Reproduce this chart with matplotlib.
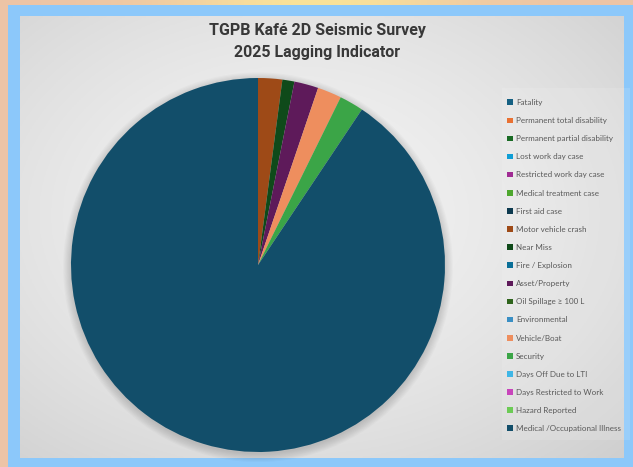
import numpy as np
import matplotlib
matplotlib.use("Agg")
import matplotlib.pyplot as plt
from matplotlib.patches import Patch, Rectangle, Circle

# categories and counts (clockwise from 12 o'clock, Excel style)
categories = [
    "Fatality", "Permanent total disability", "Permanent partial disability",
    "Lost work day case", "Restricted work day case", "Medical treatment case",
    "First aid case", "Motor vehicle crash", "Near Miss", "Fire / Explosion",
    "Asset/Property", "Oil Spillage \u2265 100 L", "Environmental", "Vehicle/Boat",
    "Security", "Days Off Due to LTI", "Days Restricted to Work",
    "Hazard Reported", "Medical /Occupational Illness",
]
counts = [0, 0, 0, 0, 0, 0, 0, 2, 1, 0, 2, 0, 0, 2, 2, 0, 0, 0, 87]
colors = [
    "#156082", "#E97132", "#196B24", "#0F9ED5", "#A02B93", "#4EA72E",
    "#0D3A4F", "#9E4A17", "#0F4A1A", "#0A6F98", "#5E1A5A", "#2F641C",
    "#3A8FC4", "#EE8E5E", "#3BA547", "#3FB6E6", "#C845BB", "#6CCB55",
    "#124E6A",
]

W, H = 633, 467
fig = plt.figure(figsize=(W / 100, H / 100), dpi=100)
fig.patch.set_facecolor("#EDC4A6")

# background frame (pixel coordinates)
bg = fig.add_axes([0, 0, 1, 1])
bg.axis("off")
top = np.linspace(0, 1, 200)
warm = np.exp(-((top - 0.5) ** 2) / 0.05)
strip = np.zeros((1, 200, 3))
strip[0, :, 0] = 0.93 + 0.05 * warm
strip[0, :, 1] = 0.77 + 0.12 * warm
strip[0, :, 2] = 0.65 - 0.05 * warm
bg.imshow(strip, extent=(0, W, 6, 0), aspect="auto", zorder=0)
bg.add_patch(Rectangle((8, 5), W - 8, H - 5, color="#8CC8FA", lw=0, zorder=1))

gx0, gx1, gy0, gy1 = 20, 624, 16, 458
yy, xx = np.mgrid[0:1:200j, 0:1:300j]
r = np.sqrt(((xx - 0.45) / 0.8) ** 2 + ((yy - 0.45) / 0.8) ** 2)
shade = 0.955 - 0.15 * np.clip(r, 0, 1) ** 1.5
bg.imshow(np.dstack([shade] * 3), extent=(gx0, gx1, gy1, gy0), aspect="auto", zorder=2)
bg.add_patch(Rectangle((502, 88), 128, 352, facecolor="white", alpha=0.12, lw=0, zorder=3))
bg.set_xlim(0, W)
bg.set_ylim(H, 0)

title_font = ["Liberation Sans Narrow", "Roboto", "DejaVu Sans"]
bg.text(317, 31, "TGPB Kaf\u00e9 2D Seismic Survey", ha="center", va="center",
        fontsize=11.5, fontweight="bold", color="#383838", family=title_font, zorder=4)
bg.text(317, 53, "2025 Lagging Indicator", ha="center", va="center",
        fontsize=11.5, fontweight="bold", color="#383838", family=title_font, zorder=4)

# pie
cx, cy, rad = 258, 265, 187
ax = fig.add_axes([(cx - rad * 1.06) / W, (H - cy - rad * 1.06) / H,
                   2.12 * rad / W, 2.12 * rad / H])
ax.axis("off")
for k in range(8):
    ax.add_patch(Circle((0, -0.012), 1.0 + 0.006 * k, color="black", alpha=0.02, lw=0))
ax.pie(counts, colors=colors, startangle=90, counterclock=False, radius=1.0,
       wedgeprops=dict(linewidth=0))
ax.set_xlim(-1.06, 1.06)
ax.set_ylim(-1.06, 1.06)
ax.set_aspect("equal")

handles = [Patch(facecolor=c, edgecolor="none") for c in colors]
fig.legend(handles, categories, loc="upper left",
           bbox_to_anchor=(503 / W, 1 - 95 / H), frameon=False,
           prop=dict(family=["Lato", "DejaVu Sans"], size=5.8), labelcolor="#595959",
           handlelength=0.7, handleheight=0.7,
           handletextpad=0.4, labelspacing=1.38, borderpad=0)

fig.savefig("out.png", dpi=100)
